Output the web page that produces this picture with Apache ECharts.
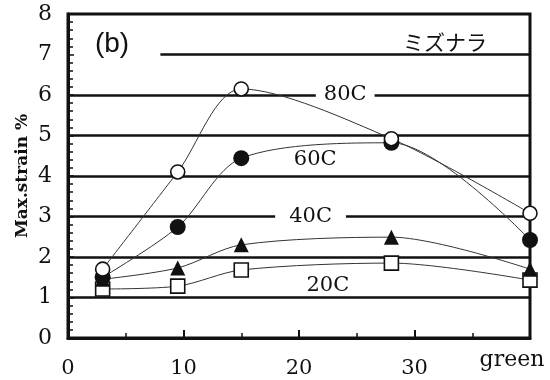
<!DOCTYPE html>
<html><head><meta charset="utf-8">
<script src="https://cdn.jsdelivr.net/npm/echarts@6/dist/echarts.min.js"></script>
<style>html,body{margin:0;padding:0;background:#fff}#c{width:550px;height:380px}</style>
</head><body><div id="c"></div>
<script>
const xValues = [3, 9.5, 15, 28, 40];
const s80 = [1.70, 4.10, 6.15, 4.92, 3.08];
const s60 = [1.50, 2.74, 4.44, 4.82, 2.42];
const s40 = [1.45, 1.73, 2.30, 2.49, 1.70];
const s20 = [1.21, 1.28, 1.68, 1.85, 1.43];
const xTickLabels = {0: '0', 10: '10', 20: '20', 30: '30', 40: 'green'};
const gridLevels = [1, 2, 3, 4, 5, 6, 7];
const curveNames = ['80C', '60C', '40C', '20C'];
const curveLabelPos = [[24.0, 6.0], [21.4, 4.4], [21.0, 3.0], [22.5, 1.3]];

const serif = '"DejaVu Serif", "Liberation Serif", serif';
const chart = echarts.init(document.getElementById('c'));
const pts = arr => xValues.map((x, i) => [x, arr[i]]);
const lineStyle = {color: '#333', width: 1};

function mkSeries(name, data, symbol, filled, size) {
  return {
    name, type: 'line', data: pts(data), smooth: 0.3,
    symbol, symbolSize: size,
    lineStyle,
    itemStyle: {color: filled ? '#111' : '#fff', borderColor: '#111', borderWidth: filled ? 0 : 1.6},
    z: 5
  };
}

chart.setOption({
  animation: false,
  grid: {left: 68, right: 20, top: 14, bottom: 42, show: true, borderColor: '#111', borderWidth: 3},
  xAxis: {
    type: 'value', min: 0, max: 40, interval: 10,
    axisLine: {lineStyle: {color: '#111', width: 3}},
    axisTick: {inside: true, length: 8, lineStyle: {color: '#111', width: 2}},
    minorTick: {show: true, splitNumber: 2, length: 5, lineStyle: {color: '#111', width: 1.5}},
    splitLine: {show: false},
    axisLabel: {
      margin: 20, color: '#111', fontFamily: serif, fontSize: 21,
      formatter: v => v === 40 ? '' : xTickLabels[v]
    }
  },
  yAxis: {
    type: 'value', min: 0, max: 8, interval: 1,
    name: 'Max.strain %', nameLocation: 'middle', nameGap: 37, nameMoveOverlap: false,
    nameTextStyle: {fontFamily: serif, fontSize: 17, fontWeight: 'bold', color: '#111'},
    axisLine: {lineStyle: {color: '#111', width: 3}},
    axisTick: {inside: true, length: 6, lineStyle: {color: '#111', width: 1.5}},
    minorTick: {show: true, splitNumber: 5, length: 5, lineStyle: {color: '#111', width: 1.5}},
    splitLine: {show: false},
    axisLabel: {margin: 16, color: '#111', fontFamily: serif, fontSize: 22}
  },
  series: [
    {
      type: 'line', data: [], silent: true,
      markLine: {
        silent: true, symbol: 'none', label: {show: false},
        lineStyle: {color: '#111', width: 2.5, type: 'solid'},
        data: gridLevels.map(v => v === 7 ? [{coord: [8, v]}, {coord: [40, v]}] : {yAxis: v})
      },
      z: 1
    },
    mkSeries('20C', s20, 'rect', false, 14),
    mkSeries('40C', s40, 'triangle', true, 15),
    mkSeries('60C', s60, 'circle', true, 16),
    mkSeries('80C', s80, 'circle', false, 14)
  ]
});

const g = [];
curveNames.forEach((n, i) => {
  const p = chart.convertToPixel({gridIndex: 0}, curveLabelPos[i]);
  g.push({
    type: 'text', x: p[0], y: p[1], z: 10,
    style: {text: n, font: '21px ' + serif, fill: '#111', align: 'center', verticalAlign: 'middle',
      backgroundColor: (i === 0 || i === 2) ? '#fff' : null, padding: i === 0 ? [0, 8] : (i === 2 ? [0, 14] : 0)}
  });
});
const pg = chart.convertToPixel({gridIndex: 0}, [40, 0]);
g.push({type: 'text', x: pg[0] - 18, y: pg[1] + 22, z: 10,
  style: {text: xTickLabels[40], font: '22px ' + serif, fill: '#111', align: 'center', verticalAlign: 'middle'}});
g.push({type: 'text', x: 112, y: 44, z: 10,
  style: {text: '(b)', font: '28px "Liberation Sans", Arial, sans-serif', fill: '#111', align: 'center', verticalAlign: 'middle'}});
g.push({type: 'text', x: 445, y: 42, z: 10,
  style: {text: 'ミズナラ', font: '21px "Noto Sans CJK JP", sans-serif', fill: '#111', align: 'center', verticalAlign: 'middle'}});
chart.setOption({graphic: g});
</script>
</body></html>
